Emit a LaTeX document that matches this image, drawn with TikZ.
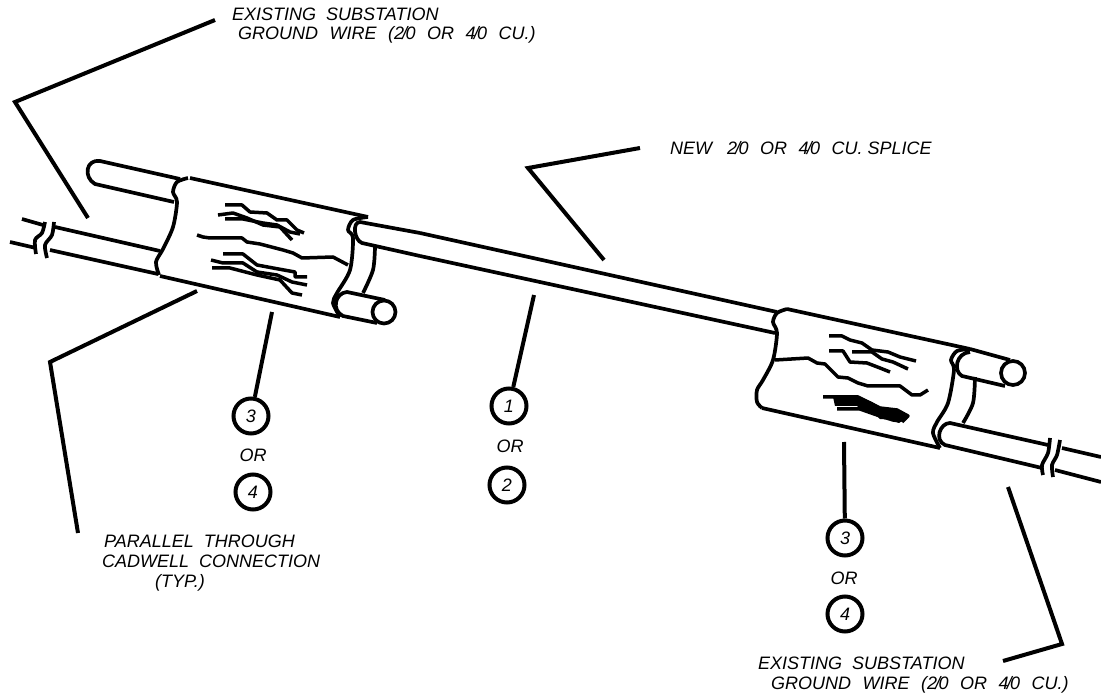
\documentclass[tikz,border=0pt]{standalone}
\usepackage{fontspec}
\setmainfont{Liberation Sans}
\usetikzlibrary{positioning}
\usetikzlibrary{calc}
\newcommand{\wsize}[2]{#1\kern-.1em/\kern-.1em#2}
\newcommand{\wgap}{\hspace{.64em}}
\tikzset{
  outline/.style={line width=3.7pt, line join=round},
  strand/.style={line width=3.5pt, line join=round},
  leader/.style={line width=4pt},
  note/.style={inner sep=0pt, anchor=west, align=left, font=\fontsize{18}{20}\selectfont\itshape},
  balloon/.style={circle, draw, line width=4pt, minimum size=35pt, inner sep=0pt, font=\fontsize{18}{20}\selectfont\itshape},
  ortext/.style={inner sep=0pt, font=\fontsize{18}{20}\selectfont\itshape}
}
\begin{document}
\begin{tikzpicture}[x=1pt,y=-1pt]
	\useasboundingbox (0,0) rectangle (1101,700);

	%%%% Labels %%%%

	\node[note] (ExistA) at (232,25.5) {EXISTING\ \ SUBSTATION\\[-1pt]\hspace*{6pt}GROUND\wgap WIRE\wgap(\wsize{2}{0}\wgap OR\wgap\wsize{4}{0}\wgap CU.)};
	\node[note] (Splice) at (670,148) {NEW\ \ \ \wsize{2}{0}\wgap OR\wgap\wsize{4}{0}\wgap CU. SPLICE};
	\node[note] (Through) at (102,563) {\hspace*{2pt}PARALLEL\ \ THROUGH\\CADWELL\ \ CONNECTION\\\hspace*{53pt}(TYP.)};
	\node[note] (ExistB) at (758,675) {EXISTING\ \ SUBSTATION\\\hspace*{13pt}GROUND\wgap WIRE\wgap(\wsize{2}{0}\wgap OR\wgap\wsize{4}{0}\wgap CU.)};

	%%%% Balloons %%%%

	\node[balloon] (B3) at (251,416) {3};
	\node[ortext] (OrA) at (253,455) {OR};
	\node[balloon] (B4) at (253,492) {4};

	\node[balloon] (B1) at (509,406) {1};
	\node[ortext] (OrB) at (510,446) {OR};
	\node[balloon] (B2) at (507,485) {2};

	\node[balloon] (C3) at (845,538) {3};
	\node[ortext] (OrC) at (844,578) {OR};
	\node[balloon] (C4) at (845,614) {4};

	%%%% Leaders %%%%

	\coordinate (TipA) at (88,218);
	\coordinate (KneeA) at (15,102);
	\coordinate (EndA) at (215,20);
	\coordinate (TipB) at (604,260);
	\coordinate (KneeB) at (528,168);
	\coordinate (EndB) at (640,148);
	\coordinate (TipC) at (197,291);
	\coordinate (KneeC) at (50,362);
	\coordinate (EndC) at (78,533);
	\coordinate (TipD) at (1008,487);
	\coordinate (KneeD) at (1062,644);
	\coordinate (EndD) at (1003,661);
	\coordinate (TipE) at (272,312);
	\coordinate (TipF) at (534,295);
	\coordinate (TipG) at (844,442);

	\draw[leader] (TipA) -- (KneeA) -- (EndA);
	\draw[leader] (TipB) -- (KneeB) -- (EndB);
	\draw[leader] (TipC) -- (KneeC) -- (EndC);
	\draw[leader] (TipD) -- (KneeD) -- (EndD);
	\draw[leader] (TipE) -- (B3);
	\draw[leader] (TipF) -- (B1);
	\draw[leader] (TipG) -- (C3);

	%%%% Left connection %%%%

	\draw[outline] (22,219) -- (43,225);
	\draw[outline] (55,227) -- (160,251);
	\draw[outline] (10,242) -- (36,248);
	\draw[outline] (50,250) -- (158,274);
	\draw[outline] plot[smooth] coordinates {(45,222) (42,233) (35,240) (36,254)};
	\draw[outline] plot[smooth] coordinates {(54,222) (52,235) (45,245) (47,258)};

	\draw[outline] (190,178) -- (368,217);
	\draw[outline] (160,276) -- (340,317);
	\draw[outline] plot[smooth] coordinates {(188,178) (177,182) (173,192) (177,202) (173,227) (163,249) (156,262) (159,275)};
	\draw[outline] plot[smooth] coordinates {(368,217) (353,220) (348,230) (353,238) (350,270) (337,293) (333,303) (340,317)};

	\draw[outline] (180,179) -- (100,161) .. controls (86,159) and (83,177) .. (95,184) -- (174,202);
	\draw[outline] (420,233) -- (360,222) .. controls (352,222) and (354,240) .. (362,243) -- (420,256);
	\draw[outline] plot[smooth] coordinates {(375,247) (373,270) (363,293)};
	\draw[outline] (385,300) -- (347,292) .. controls (335,293) and (331,310) .. (343,316) -- (377,323);
	\draw[outline] (384,312) circle (11.5);

	\draw[strand] (225,205) -- (242,205) -- (250,212) -- (267,213) -- (277,220) -- (287,220) -- (297,230) -- (304,233);
	\draw[strand] (218,215) -- (233,213) -- (247,218) -- (263,225) -- (280,227) -- (292,240);
	\draw[strand] (225,219) -- (243,219) -- (263,223) -- (277,225) -- (290,232) -- (300,234);
	\draw[strand] (197,235) -- (203,237) -- (210,238) -- (242,238) -- (247,242) -- (260,244) -- (283,250) -- (293,253) -- (302,258) -- (333,257) -- (348,265);
	\draw[strand] (223,254) -- (243,254) -- (257,265) -- (273,268) -- (295,272) -- (295,277) -- (307,277);
	\draw[strand] (211,260) -- (223,263) -- (243,263) -- (257,272) -- (277,275) -- (292,282) -- (307,285);
	\draw[strand] (212,268) -- (230,268) -- (257,275) -- (280,280) -- (292,293) -- (302,295);

	%%%% New splice %%%%

	\draw[outline] (420,233) -- (777,312);
	\draw[outline] (420,256) -- (775,333);

	%%%% Right connection %%%%

	\draw[outline] (787,309) -- (970,349);
	\draw[outline] (762,408) -- (940,448);
	\draw[outline] plot[smooth] coordinates {(787,309) (777,313) (773,322) (777,333) (773,360) (763,380) (757,390) (757,402) (762,408)};
	\draw[outline] plot[smooth] coordinates {(970,349) (957,351) (951,360) (954,370) (948,403) (937,422) (933,433) (940,448)};

	\draw[outline] (970,349) -- (1010,360);
	\draw[outline] (970,352) .. controls (956,353) and (953,371) .. (962,376) -- (1005,386);
	\draw[outline] (1013,373) circle (12);
	\draw[outline] plot[smooth] coordinates {(975,377) (973,403) (963,423)};

	\draw[outline] (1048,445) -- (950,423) .. controls (940,423) and (934,440) .. (945,445) -- (1042,468);
	\draw[outline] (1062,448) -- (1101,457);
	\draw[outline] (1055,470) -- (1101,482);
	\draw[outline] plot[smooth] coordinates {(1050,438) (1048,453) (1042,465) (1043,475)};
	\draw[outline] plot[smooth] coordinates {(1060,440) (1057,455) (1052,465) (1053,477)};

	\draw[strand] (829,336) -- (842,336) -- (850,340) -- (862,343) -- (872,350) -- (888,352) -- (900,357) -- (916,361);
	\draw[strand] (852,352) -- (872,352) -- (882,359) -- (893,362) -- (908,369);
	\draw[strand] (829,351) -- (843,351) -- (850,362) -- (867,363) -- (880,368) -- (890,372);
	\draw[strand] (775,360) -- (808,358) -- (817,363) -- (825,364) -- (838,377) -- (848,378) -- (858,383) -- (868,386) -- (900,386) -- (912,395) -- (920,395) -- (928,390);
	\draw[strand] (823,397) -- (858,397) -- (880,408) -- (897,410) -- (908,416) -- (902,422);
	\draw[strand] (837,409) -- (860,409) -- (877,415) -- (893,420) -- (900,421);
	\fill (833,397) -- (858,396) -- (872,402) -- (880,407) -- (897,409) -- (909,416) -- (906,420) -- (898,423) -- (895,420) -- (880,419) -- (872,412) -- (860,409) -- (857,406) -- (835,406) -- cycle;

\end{tikzpicture}
\end{document}
